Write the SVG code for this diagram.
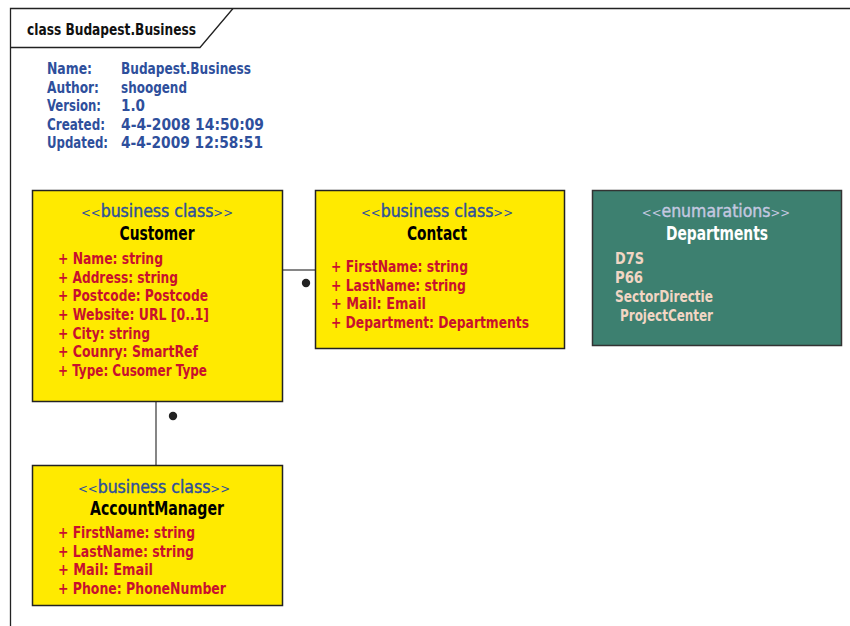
<svg xmlns="http://www.w3.org/2000/svg" width="850" height="626" viewBox="0 0 850 626">
<style>
text{font-family:"DejaVu Sans Condensed","Liberation Sans",sans-serif;font-weight:bold;font-stretch:condensed;}
.meta{fill:#2e4f9c;font-size:15.5px;}
.title{fill:#111;font-size:16px;}
.box{fill:#ffea00;stroke:#222;stroke-width:1.5;}
.enum{fill:#3d8070;stroke:#333;stroke-width:1.5;}
.st{fill:#2e4f9c;font-size:17.5px;text-anchor:middle;font-weight:normal;stroke:#2e4f9c;stroke-width:0.4;}
.st2{fill:#c4c8e0;font-size:17.5px;text-anchor:middle;font-weight:normal;stroke:#c4c8e0;stroke-width:0.4;}
.g{font-size:13px;stroke:none;}
.nm{fill:#000;font-size:19px;text-anchor:middle;}
.nm2{fill:#fff;font-size:19px;text-anchor:middle;}
.at{fill:#c8102e;font-size:15.5px;}
.it{fill:#f2d6c4;font-size:16px;}
.conn{stroke:#444;stroke-width:1.3;fill:none;}
</style>
<rect width="850" height="626" fill="#fff"/>
<g id="frame">
<path d="M10.5 626 V8.5 H850" fill="none" stroke="#222" stroke-width="1.3"/>
<path d="M10.5 47.5 H200 L233 8.5" fill="none" stroke="#222" stroke-width="1.3"/>
<text class="title" x="27" y="35" textLength="169" lengthAdjust="spacingAndGlyphs">class Budapest.Business</text>
</g>
<g id="metadata">
<text class="meta" x="47" y="74" textLength="45" lengthAdjust="spacingAndGlyphs">Name:</text><text class="meta" x="121" y="74" textLength="130" lengthAdjust="spacingAndGlyphs">Budapest.Business</text>
<text class="meta" x="47" y="92.5" textLength="52" lengthAdjust="spacingAndGlyphs">Author:</text><text class="meta" x="121" y="92.5" textLength="66" lengthAdjust="spacingAndGlyphs">shoogend</text>
<text class="meta" x="47" y="111" textLength="54" lengthAdjust="spacingAndGlyphs">Version:</text><text class="meta" x="121" y="111" textLength="24" lengthAdjust="spacingAndGlyphs">1.0</text>
<text class="meta" x="47" y="129.5" textLength="58" lengthAdjust="spacingAndGlyphs">Created:</text><text class="meta" x="121" y="129.5" textLength="143" lengthAdjust="spacingAndGlyphs">4-4-2008 14:50:09</text>
<text class="meta" x="47" y="148" textLength="61" lengthAdjust="spacingAndGlyphs">Updated:</text><text class="meta" x="121" y="148" textLength="142" lengthAdjust="spacingAndGlyphs">4-4-2009 12:58:51</text>
</g>
<g id="connectors">
<line class="conn" x1="283" y1="270" x2="315" y2="270"/>
<circle cx="306" cy="283" r="4.2" fill="#222"/>
<line class="conn" x1="156" y1="402" x2="156" y2="465"/>
<circle cx="173" cy="416" r="4.2" fill="#222"/>
</g>
<g id="customer">
<rect class="box" x="32.5" y="190.5" width="250" height="211"/>
<text class="st" x="157" y="217"><tspan class="g">&lt;&lt;</tspan>business class<tspan class="g">&gt;&gt;</tspan></text>
<text class="nm" x="157" y="240" textLength="75" lengthAdjust="spacingAndGlyphs">Customer</text>
<text class="at" x="58" y="264" textLength="105" lengthAdjust="spacingAndGlyphs">+ Name: string</text>
<text class="at" x="58" y="282.7" textLength="120" lengthAdjust="spacingAndGlyphs">+ Address: string</text>
<text class="at" x="58" y="301.3" textLength="150" lengthAdjust="spacingAndGlyphs">+ Postcode: Postcode</text>
<text class="at" x="58" y="320" textLength="151" lengthAdjust="spacingAndGlyphs">+ Website: URL [0..1]</text>
<text class="at" x="58" y="338.7" textLength="92" lengthAdjust="spacingAndGlyphs">+ City: string</text>
<text class="at" x="58" y="357.3" textLength="140" lengthAdjust="spacingAndGlyphs">+ Counry: SmartRef</text>
<text class="at" x="58" y="376" textLength="149" lengthAdjust="spacingAndGlyphs">+ Type: Cusomer Type</text>
</g>
<g id="contact">
<rect class="box" x="315.5" y="190.5" width="249" height="158"/>
<text class="st" x="437" y="217"><tspan class="g">&lt;&lt;</tspan>business class<tspan class="g">&gt;&gt;</tspan></text>
<text class="nm" x="437" y="240" textLength="60" lengthAdjust="spacingAndGlyphs">Contact</text>
<text class="at" x="331" y="272" textLength="137" lengthAdjust="spacingAndGlyphs">+ FirstName: string</text>
<text class="at" x="331" y="290.7" textLength="135" lengthAdjust="spacingAndGlyphs">+ LastName: string</text>
<text class="at" x="331" y="309.3" textLength="95" lengthAdjust="spacingAndGlyphs">+ Mail: Email</text>
<text class="at" x="331" y="328" textLength="198" lengthAdjust="spacingAndGlyphs">+ Department: Departments</text>
</g>
<g id="departments">
<rect class="enum" x="592.5" y="190.5" width="249" height="155"/>
<text class="st2" x="716" y="217"><tspan class="g">&lt;&lt;</tspan>enumarations<tspan class="g">&gt;&gt;</tspan></text>
<text class="nm2" x="717" y="240" textLength="102" lengthAdjust="spacingAndGlyphs">Departments</text>
<text class="it" x="615" y="264" textLength="29" lengthAdjust="spacingAndGlyphs">D7S</text>
<text class="it" x="615" y="283" textLength="28" lengthAdjust="spacingAndGlyphs">P66</text>
<text class="it" x="615" y="302" textLength="98" lengthAdjust="spacingAndGlyphs">SectorDirectie</text>
<text class="it" x="620" y="321" textLength="93" lengthAdjust="spacingAndGlyphs">ProjectCenter</text>
</g>
<g id="accountmanager">
<rect class="box" x="32.5" y="465.5" width="250" height="140"/>
<text class="st" x="154" y="493"><tspan class="g">&lt;&lt;</tspan>business class<tspan class="g">&gt;&gt;</tspan></text>
<text class="nm" x="157" y="515" textLength="134" lengthAdjust="spacingAndGlyphs">AccountManager</text>
<text class="at" x="58" y="538" textLength="137" lengthAdjust="spacingAndGlyphs">+ FirstName: string</text>
<text class="at" x="58" y="556.7" textLength="136" lengthAdjust="spacingAndGlyphs">+ LastName: string</text>
<text class="at" x="58" y="575.3" textLength="95" lengthAdjust="spacingAndGlyphs">+ Mail: Email</text>
<text class="at" x="58" y="594" textLength="168" lengthAdjust="spacingAndGlyphs">+ Phone: PhoneNumber</text>
</g>
</svg>
